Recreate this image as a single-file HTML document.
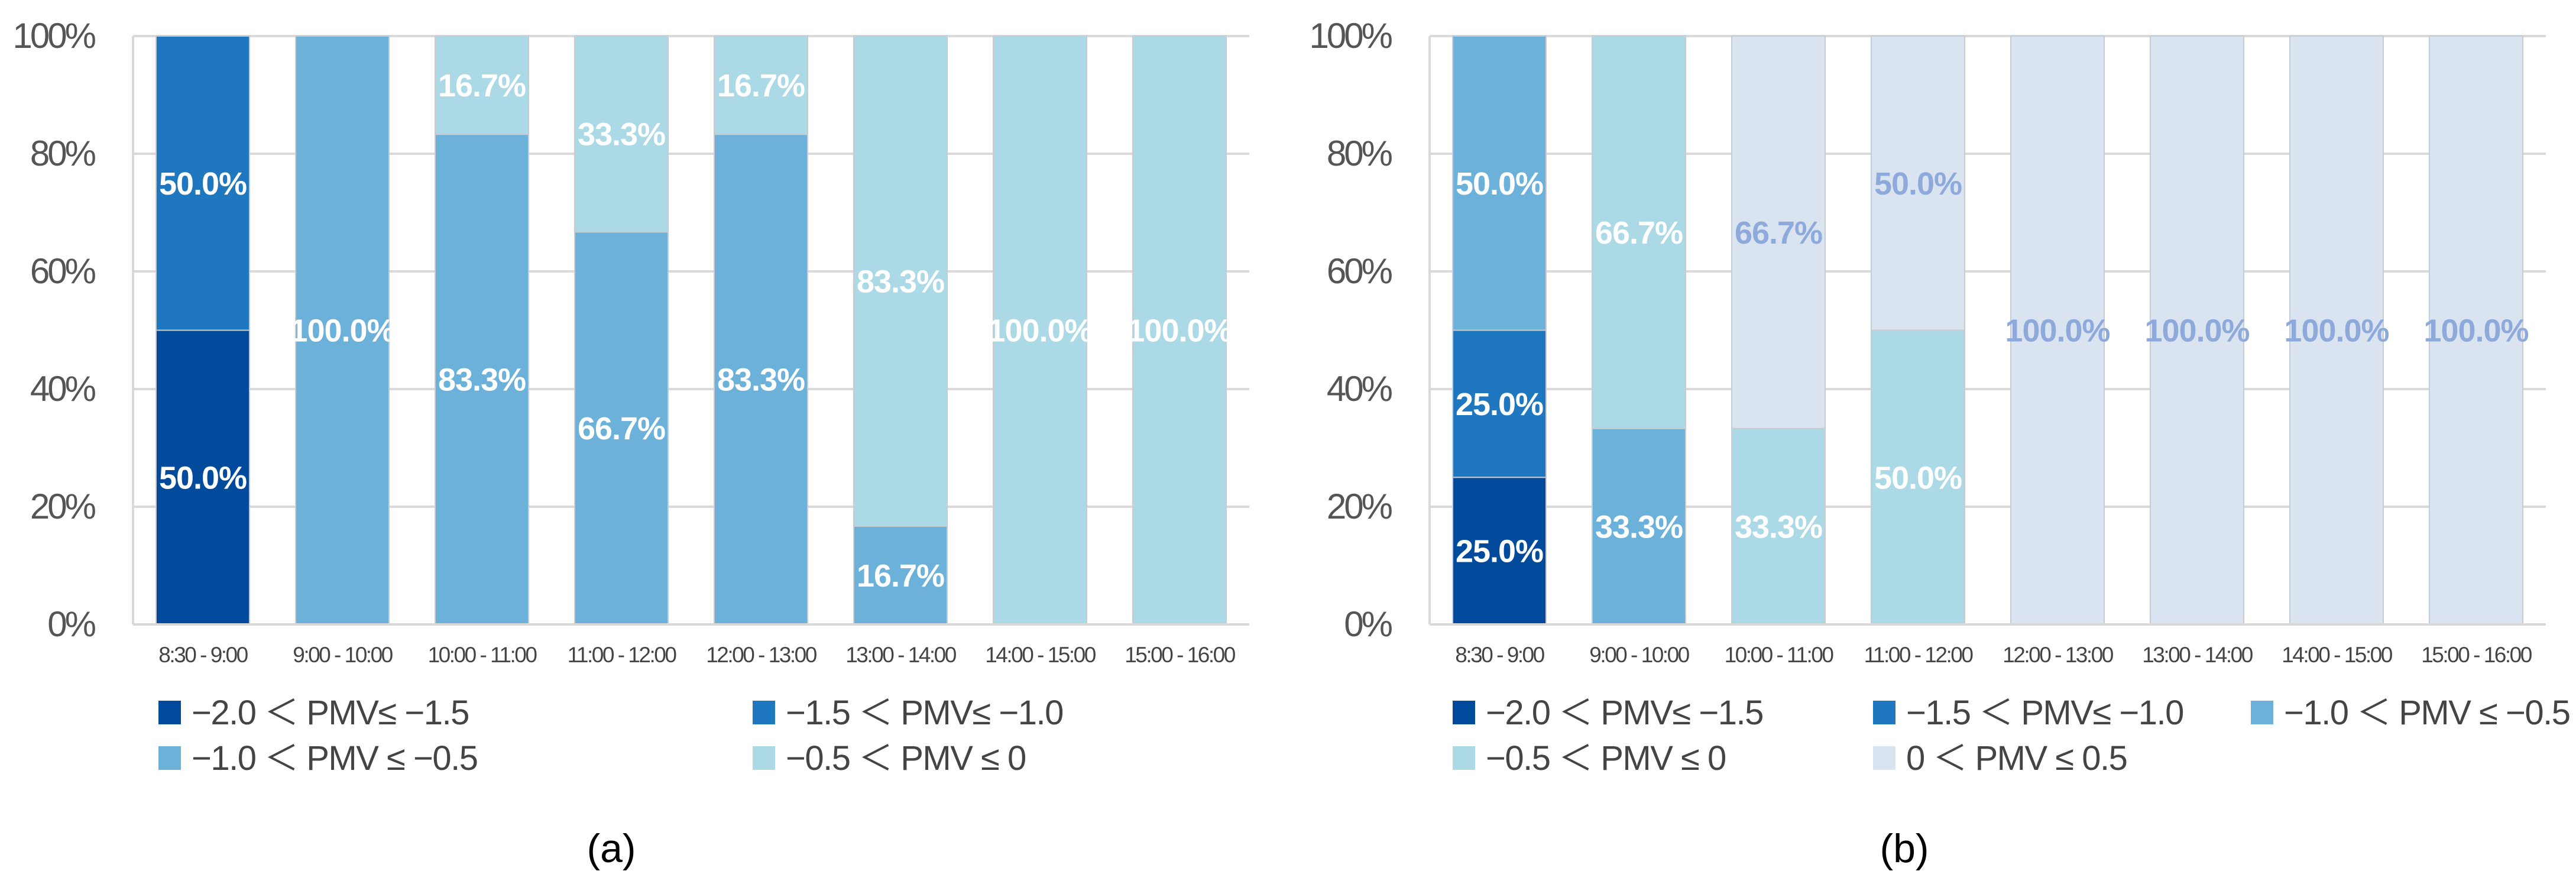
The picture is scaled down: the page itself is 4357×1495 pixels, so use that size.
<!DOCTYPE html>
<html><head><meta charset="utf-8"><style>
body{margin:0;background:#fff;width:4357px;height:1495px;overflow:hidden}
svg{display:block}
text{font-family:"Liberation Sans Narrow","Liberation Sans",sans-serif}
</style></head><body>
<svg id="chart" width="4357" height="1495" viewBox="0 0 4357 1495"></svg>
<script>
const categories=["8:30 - 9:00","9:00 - 10:00","10:00 - 11:00","11:00 - 12:00","12:00 - 13:00","13:00 - 14:00","14:00 - 15:00","15:00 - 16:00"];
const yTicks=[0,20,40,60,80,100];
const seriesNames=["\u22122.0 \uFF1C PMV\u2264 \u22121.5","\u22121.5 \uFF1C PMV\u2264 \u22121.0","\u22121.0 \uFF1C PMV \u2264 \u22120.5","\u22120.5 \uFF1C PMV \u2264 0","0 \uFF1C PMV \u2264 0.5"];
const colors=["#024b9c","#1f77c0","#6cb1da","#acd9e6","#dae3f0"];
const aS1=[50,0,0,0,0,0,0,0];
const aS2=[50,0,0,0,0,0,0,0];
const aS3=[0,100,83.3,66.7,83.3,16.7,0,0];
const aS4=[0,0,16.7,33.3,16.7,83.3,100,100];
const bS1=[25,0,0,0,0,0,0,0];
const bS2=[25,0,0,0,0,0,0,0];
const bS3=[50,33.3,0,0,0,0,0,0];
const bS4=[0,66.7,33.3,50,0,0,0,0];
const bS5=[0,0,66.7,50,100,100,100,100];
const NS="http://www.w3.org/2000/svg";
const svg=document.getElementById('chart');
function mk(tag,attrs,parent,txt){const e=document.createElementNS(NS,tag);for(const k in attrs)e.setAttribute(k,attrs[k]);if(txt!==undefined)e.textContent=txt;(parent||svg).appendChild(e);return e;}
function drawChart(id,x0,series,labelColors,legendPos,caption,capX){
  const g=mk('g',{});
  
  
  const top=61,bot=1056,cw=236,bw=158,W=cw*categories.length;
  const y=v=>bot-(v/100)*(bot-top);
  const xc=i=>x0+cw*(i+0.5);
  yTicks.forEach(t=>{
    const l=mk('line',{x1:x0,x2:x0+W,y1:y(t),y2:y(t),stroke:'#d9d9d9','stroke-width':4},g);
    
    
    const tx=mk('text',{x:x0-66,y:y(t)+20,'text-anchor':'end','font-size':60,fill:'#555',style:'letter-spacing:-4px'},g,t+'%');
    
    
  });
  const ax=mk('line',{x1:x0,x2:x0,y1:top,y2:bot,stroke:'#d9d9d9','stroke-width':4},g);
  
  
  categories.forEach((c,i)=>{
    let acc=0;
    series.forEach((s,k)=>{
      const v=s[i];if(v<=0)return;
      const r=mk('rect',{x:xc(i)-bw/2,y:y(acc+v),width:bw,height:y(acc)-y(acc+v),fill:colors[k],stroke:'#c8ccd0','stroke-width':2},g);
      
      
      const lt=mk('text',{x:xc(i),y:(y(acc)+y(acc+v))/2+19,'text-anchor':'middle','font-size':54,'font-weight':'bold',fill:labelColors[k],style:'letter-spacing:-1px'},g,v.toFixed(1)+'%');
      
      
      acc+=v;
    });
    const xl=mk('text',{x:xc(i),y:1120,'text-anchor':'middle','font-size':37,fill:'#444',style:'letter-spacing:-2.5px'},g,c);
    
    
  });
  const bl=mk('line',{x1:x0,x2:x0+W,y1:bot,y2:bot,stroke:'#d9d9d9','stroke-width':4},g);
  
  
  legendPos.forEach((p,k)=>{
    const lg=mk('g',{},g);
    
    
    mk('rect',{x:p[0],y:p[1]-40,width:38,height:40,fill:colors[k]},lg);
    mk('text',{x:p[0]+56,y:p[1],'font-size':58,fill:'#444',style:'letter-spacing:-1.5px'},lg,seriesNames[k]);
  });
  const ct=mk('text',{x:capX,y:1458,'text-anchor':'middle','font-size':68,fill:'#000','font-family':'Liberation Serif'},g,caption);
  
  
}
drawChart('chart-a',225,[aS1,aS2,aS3,aS4],['#fff','#fff','#fff','#fff'],[[268,1225],[1273,1225],[268,1302],[1273,1302]],'(a)',1034);
drawChart('chart-b',2418,[bS1,bS2,bS3,bS4,bS5],['#fff','#fff','#fff','#fff','#8eaadb'],[[2457,1225],[3168,1225],[3807,1225],[2457,1302],[3168,1302]],'(b)',3221);
</script>
</body></html>
